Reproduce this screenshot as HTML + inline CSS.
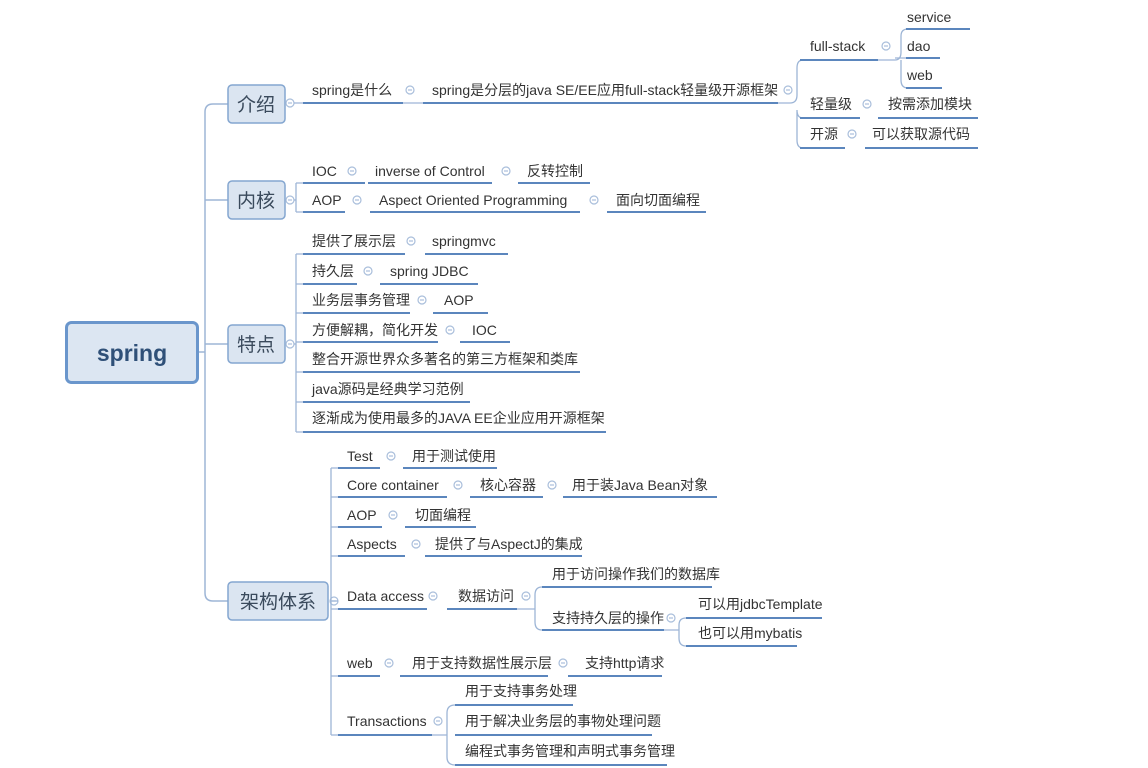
<!DOCTYPE html>
<html><head><meta charset="utf-8"><style>
html,body{margin:0;padding:0;background:#fff;}
svg{display:block}
text{font-family:"Liberation Sans","Noto Sans CJK SC",sans-serif;font-size:14px;fill:#333;}
.u{stroke:#5b86bd;stroke-width:2;fill:none}
.c{stroke:#9db5d6;stroke-width:1.3;fill:none}
.t{stroke:#9db5d6;stroke-width:1.5;fill:none}
</style></head><body>
<svg width="1148" height="768" viewBox="0 0 1148 768" xmlns="http://www.w3.org/2000/svg">
<defs><g id="m"><circle r="4" fill="#fff" stroke="#a9bedb" stroke-width="1.2"/><line x1="-2" y1="0" x2="2" y2="0" stroke="#a9bedb" stroke-width="1.2"/></g></defs>

<path class="t" d="M198 352 H205 M228 104 H213 Q205 104 205 112 V593 Q205 601 213 601 H228 M205 200 H228 M205 344 H228"/>

<rect x="66.5" y="322.5" width="131" height="60" rx="5" fill="#dce6f2" stroke="#6a96cc" stroke-width="3"/>
<text x="132" y="361" text-anchor="middle" style="font-size:23px;font-weight:bold;fill:#2f5078">spring</text>

<g fill="#dbe5f1" stroke="#84a6d0" stroke-width="1.5">
<rect x="228" y="85" width="57" height="38" rx="4"/>
<rect x="228" y="181" width="57" height="38" rx="4"/>
<rect x="228" y="325" width="57" height="38" rx="4"/>
<rect x="228" y="582" width="100" height="38" rx="4"/>
</g>
<text x="256" y="111" text-anchor="middle" style="font-size:19px;fill:#3a4a5c">介绍</text>
<text x="256" y="207" text-anchor="middle" style="font-size:19px;fill:#3a4a5c">内核</text>
<text x="256" y="351" text-anchor="middle" style="font-size:19px;fill:#3a4a5c">特点</text>
<text x="278" y="608" text-anchor="middle" style="font-size:19px;fill:#3a4a5c">架构体系</text>
<use href="#m" x="290" y="103"/><use href="#m" x="290" y="200"/><use href="#m" x="290" y="344"/><use href="#m" x="334" y="601"/>

<path class="c" d="M294 103 H303 M403 103 H423 M778 103 H790 Q797 103 797 95 V68 Q797 60 803 60 M797 110 V140 Q797 148 803 148 M797 110 Q797 118 803 118"/>
<path class="u" d="M303 103 H403 M423 103 H778"/>
<text x="312" y="95">spring是什么</text><use href="#m" x="410" y="90"/>
<text x="432" y="95">spring是分层的java SE/EE应用full-stack轻量级开源框架</text><use href="#m" x="788" y="90"/>
<path class="u" d="M800 60 H878 M800 118 H860 M878 118 H978 M800 148 H845 M865 148 H978"/>
<path class="c" d="M878 60 H895 Q901 60 901 52 V36 Q901 29 908 29 M901 60 V80 Q901 88 908 88 M895 58 H940"/>
<text x="810" y="51">full-stack</text><use href="#m" x="886" y="46"/>
<path class="u" d="M906 29 H970 M906 58 H940 M906 88 H942"/>
<text x="907" y="22">service</text><text x="907" y="51">dao</text><text x="907" y="80">web</text>
<text x="810" y="109">轻量级</text><use href="#m" x="867" y="104"/><text x="888" y="109">按需添加模块</text>
<text x="810" y="139">开源</text><use href="#m" x="852" y="134"/><text x="872" y="139">可以获取源代码</text>

<path class="c" d="M294 200 H296 M296 183 V212 M296 183 H303 M296 212 H303"/>
<path class="u" d="M303 183 H365 M368 183 H492 M518 183 H590 M303 212 H345 M370 212 H580 M607 212 H706"/>
<text x="312" y="176">IOC</text><use href="#m" x="352" y="171"/><text x="375" y="176">inverse of Control</text><use href="#m" x="506" y="171"/><text x="527" y="176">反转控制</text>
<text x="312" y="205">AOP</text><use href="#m" x="357" y="200"/><text x="379" y="205">Aspect Oriented Programming</text><use href="#m" x="594" y="200"/><text x="616" y="205">面向切面编程</text>

<path class="c" d="M294 344 H296 M296 254 V432 M296 254 H303 M296 284 H303 M296 313 H303 M296 342 H303 M296 372 H303 M296 402 H303 M296 432 H303"/>
<path class="u" d="M303 254 H405 M425 254 H508 M303 284 H357 M380 284 H478 M303 313 H410 M433 313 H488 M303 342 H438 M460 342 H510 M303 372 H580 M303 402 H470 M303 432 H606"/>
<text x="312" y="246">提供了展示层</text><use href="#m" x="411" y="241"/><text x="432" y="246">springmvc</text>
<text x="312" y="276">持久层</text><use href="#m" x="368" y="271"/><text x="390" y="276">spring JDBC</text>
<text x="312" y="305">业务层事务管理</text><use href="#m" x="422" y="300"/><text x="444" y="305">AOP</text>
<text x="312" y="335">方便解耦，简化开发</text><use href="#m" x="450" y="330"/><text x="472" y="335">IOC</text>
<text x="312" y="364">整合开源世界众多著名的第三方框架和类库</text>
<text x="312" y="394">java源码是经典学习范例</text>
<text x="312" y="423">逐渐成为使用最多的JAVA EE企业应用开源框架</text>

<path class="c" d="M338 601 H331 M331 468 V735 M331 468 H338 M331 497 H338 M331 527 H338 M331 556 H338 M331 609 H338 M331 676 H338 M331 735 H338"/>
<path class="u" d="M338 468 H380 M403 468 H497 M338 497 H447 M470 497 H543 M563 497 H717 M338 527 H382 M405 527 H476 M338 556 H405 M425 556 H582"/>
<text x="347" y="461">Test</text><use href="#m" x="391" y="456"/><text x="412" y="461">用于测试使用</text>
<text x="347" y="490">Core container</text><use href="#m" x="458" y="485"/><text x="480" y="490">核心容器</text><use href="#m" x="552" y="485"/><text x="572" y="490">用于装Java Bean对象</text>
<text x="347" y="520">AOP</text><use href="#m" x="393" y="515"/><text x="415" y="520">切面编程</text>
<text x="347" y="549">Aspects</text><use href="#m" x="416" y="544"/><text x="435" y="549">提供了与AspectJ的集成</text>

<path class="u" d="M338 609 H427 M447 609 H517 M542 587 H712 M542 630 H664 M686 618 H822 M686 646 H797"/>
<path class="c" d="M517 609 H535 M535 609 V595 Q535 587 542 587 M535 609 V622 Q535 630 542 630 M664 630 H679 M679 630 V625 Q679 618 686 618 M679 630 V638 Q679 646 686 646"/>
<text x="347" y="601">Data access</text><use href="#m" x="433" y="596"/><text x="458" y="601">数据访问</text><use href="#m" x="526" y="596"/>
<text x="552" y="579">用于访问操作我们的数据库</text>
<text x="552" y="623">支持持久层的操作</text><use href="#m" x="671" y="618"/>
<text x="698" y="609">可以用jdbcTemplate</text>
<text x="698" y="638">也可以用mybatis</text>

<path class="u" d="M338 676 H380 M400 676 H548 M568 676 H662"/>
<text x="347" y="668">web</text><use href="#m" x="389" y="663"/><text x="412" y="668">用于支持数据性展示层</text><use href="#m" x="563" y="663"/><text x="585" y="668">支持http请求</text>

<path class="u" d="M338 735 H432 M455 705 H573 M455 735 H652 M455 765 H667"/>
<path class="c" d="M432 735 H447 M447 735 V713 Q447 705 455 705 M447 735 V757 Q447 765 455 765"/>
<text x="347" y="726">Transactions</text><use href="#m" x="438" y="721"/>
<text x="465" y="696">用于支持事务处理</text>
<text x="465" y="726">用于解决业务层的事物处理问题</text>
<text x="465" y="756">编程式事务管理和声明式事务管理</text>
</svg>
</body></html>
